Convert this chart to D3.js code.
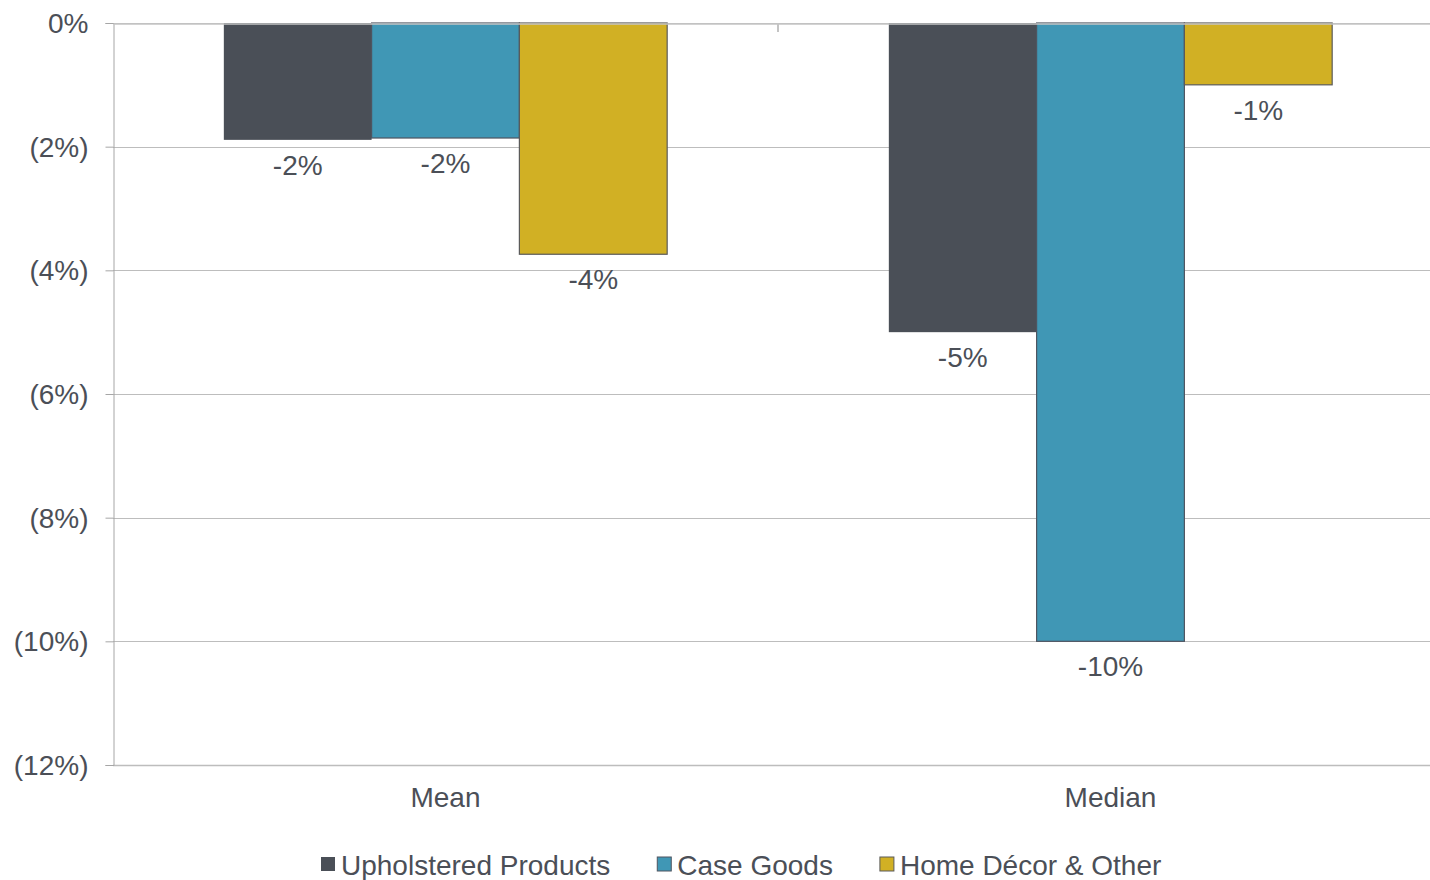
<!DOCTYPE html>
<html>
<head>
<meta charset="utf-8">
<script src="https://cdn.jsdelivr.net/npm/d3@7"></script>
<style>
  html, body { margin: 0; padding: 0; background: #fff; }
  svg text { font-family: "Liberation Sans", Arial, sans-serif; fill: #4b4f57; }
</style>
</head>
<body>
<svg id="chart" width="1430" height="880"></svg>
<script>
// Change in value by product segment, shown for the mean and median
const categories = ["Mean", "Median"];
const seriesNames = ["Upholstered Products", "Case Goods", "Home Décor & Other"];
const upholstered = [-1.89, -5.0];
const caseGoods = [-1.86, -10.0];
const homeDecor = [-3.74, -1.0];
const yTicks = [0, -2, -4, -6, -8, -10, -12];

const seriesValues = [upholstered, caseGoods, homeDecor];
const colors = ["#4a4f57", "#4097b5", "#d1b024"];
const strokes = ["none", "#4f5561", "#5a5a5a"];
const fontSize = "28px";

const svg = d3.select("#chart");
const plotLeft = 113, plotTop = 23, plotBottom = 765, plotRight = 1443;

const y = d3.scaleLinear().domain([0, -12]).range([plotTop, plotBottom]);
const x0 = d3.scaleBand().domain(categories).range([plotLeft, plotRight]).padding(0);
const groupPad = x0.bandwidth() / 6;
const x1 = d3.scaleBand().domain(d3.range(seriesNames.length))
  .range([groupPad, x0.bandwidth() - groupPad]).padding(0);

const tickFmt = v => v === 0 ? "0%" : "(" + Math.abs(v) + "%)";
const labelFmt = v => (v < 0 ? "-" : "") + Math.round(Math.abs(v)) + "%";

// horizontal gridlines
svg.append("g").selectAll("line").data(yTicks).join("line")
  .attr("x1", plotLeft).attr("x2", 1430)
  .attr("y1", d => Math.round(y(d)) + 0.5).attr("y2", d => Math.round(y(d)) + 0.5)
  .attr("stroke", "#bdbdbd").attr("stroke-width", d => d === -12 ? 1.5 : 1);

// y axis
const yAxis = svg.append("g").attr("transform", `translate(${plotLeft + 0.5},0)`)
  .call(d3.axisLeft(y).tickValues(yTicks).tickFormat(tickFmt).tickSize(8).tickPadding(17));
yAxis.select(".domain").attr("stroke", "#a6a6a6");
yAxis.selectAll(".tick line").attr("stroke", "#a6a6a6");
yAxis.selectAll(".tick text").style("font-size", fontSize).attr("fill", "#4b4f57").attr("dy", "0.34em");

// bars
const groups = svg.append("g").selectAll("g").data(categories).join("g")
  .attr("transform", d => `translate(${x0(d)},0)`);

groups.each(function (cat, ci) {
  const g = d3.select(this);
  seriesValues.forEach((vals, si) => {
    const v = vals[ci];
    g.append("rect")
      .attr("x", x1(si)).attr("width", x1.bandwidth())
      .attr("y", y(0)).attr("height", y(v) - y(0))
      .attr("fill", colors[si])
      .attr("stroke", strokes[si]).attr("stroke-width", 1.2);
    g.append("text")
      .attr("x", x1(si) + x1.bandwidth() / 2)
      .attr("y", y(v) + 35)
      .attr("text-anchor", "middle")
      .style("font-size", fontSize)
      .text(labelFmt(v));
  });
});

// top axis line with category separators
const xAxis = svg.append("g").attr("transform", `translate(0,${plotTop + 0.5})`)
  .call(d3.axisBottom(x0).tickValues([]).tickSizeOuter(0));
xAxis.select(".domain").attr("stroke", "#c4c4c4").attr("stroke-width", 1.5);
svg.append("line")
  .attr("x1", plotLeft + x0.bandwidth()).attr("x2", plotLeft + x0.bandwidth())
  .attr("y1", plotTop).attr("y2", plotTop + 9)
  .attr("stroke", "#c4c4c4").attr("stroke-width", 2);

// category labels
svg.append("g").selectAll("text").data(categories).join("text")
  .attr("x", d => x0(d) + x0.bandwidth() / 2)
  .attr("y", 807)
  .attr("text-anchor", "middle")
  .style("font-size", fontSize)
  .text(d => d);

// legend
const legend = svg.append("g");
let lx = 321;
seriesNames.forEach((name, i) => {
  legend.append("rect")
    .attr("x", lx).attr("y", 857).attr("width", 14).attr("height", 14)
    .attr("fill", colors[i]).attr("stroke", strokes[i]).attr("stroke-width", 1);
  const t = legend.append("text")
    .attr("x", lx + 20).attr("y", 875)
    .style("font-size", fontSize)
    .text(name);
  lx += 20 + t.node().getComputedTextLength() + 47;
});
</script>
</body>
</html>
